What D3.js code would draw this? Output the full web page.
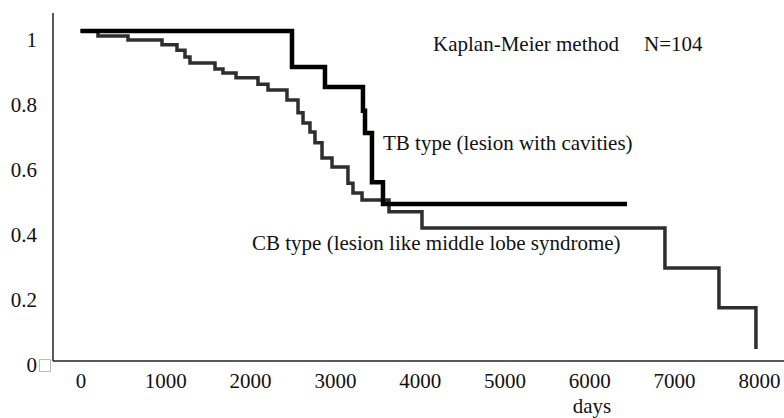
<!DOCTYPE html>
<html>
<head>
<meta charset="utf-8">
<script src="https://cdn.jsdelivr.net/npm/d3@7"></script>
<style>
  body { margin: 0; background: #fff; }
  svg text { font-family: "Liberation Serif", "DejaVu Serif", "Times New Roman", Times, serif !important; fill: #111; }
</style>
</head>
<body>
<div id="chart"></div>
<script>
// survival data (days, cumulative survival)
var tbDays = [0, 2494, 2883, 3331, 3355, 3437, 3567, 6445];
var tbSurv = [1, 0.891, 0.830, 0.758, 0.691, 0.542, 0.476, 0.476];

var cbDays = [0, 206, 560, 961, 1138, 1232, 1291, 1586, 1680, 1834, 2093, 2211, 2435, 2565,
              2624, 2706, 2765, 2848, 2966, 3154, 3213, 3320, 3638, 4027, 6892, 7529, 7965];
var cbSurv = [1, 0.985, 0.973, 0.958, 0.942, 0.921, 0.903, 0.885, 0.873, 0.858, 0.839, 0.821, 0.791, 0.752,
              0.721, 0.694, 0.661, 0.615, 0.588, 0.539, 0.509, 0.488, 0.452, 0.403, 0.282, 0.161, 0.036];

var xTicks = [0, 1000, 2000, 3000, 4000, 5000, 6000, 7000, 8000];
var yTicks = [0, 0.2, 0.4, 0.6, 0.8, 1];

var width = 784, height = 418;
var serif = "'Liberation Serif', 'DejaVu Serif', 'Times New Roman', Times, serif";

var svg = d3.select("#chart").append("svg")
  .attr("width", width)
  .attr("height", height)
  .attr("font-family", serif);

svg.append("rect").attr("width", width).attr("height", height).attr("fill", "#fff");

// scales
var xScale = d3.scaleLinear().domain([0, 8000]).range([80.5, 758.9]);
var yScale = d3.scaleLinear().domain([0, 1]).range([361, 31]);
// tick labels in the scan sit a little off the plotted values
var yLabelScale = d3.scaleLinear().domain([0, 1]).range([364.5, 39.5]);

// axes lines
svg.append("line")
  .attr("x1", 53).attr("x2", 53).attr("y1", 13).attr("y2", 361)
  .attr("stroke", "#222").attr("stroke-width", 1.5);
svg.append("line")
  .attr("x1", 53).attr("x2", 784).attr("y1", 361).attr("y2", 361)
  .attr("stroke", "#222").attr("stroke-width", 1.5);

// little grey box next to the zero
svg.append("rect")
  .attr("x", 39.5).attr("y", 359.5).attr("width", 11).attr("height", 12)
  .attr("fill", "none").attr("stroke", "#bbb").attr("stroke-width", 1);

// x axis labels
var xAxis = d3.axisBottom(xScale).tickValues(xTicks).tickSize(0).tickPadding(0)
  .tickFormat(d3.format("d"));
var gx = svg.append("g")
  .attr("transform", "translate(0,373)")
  .call(xAxis)
  .attr("font-family", serif)
  .attr("font-size", 21);
gx.select(".domain").remove();
gx.selectAll("text")
  .attr("dy", "0.71em")
  .attr("fill", "#111");

// y axis labels
var yAxis = d3.axisLeft(yLabelScale).tickValues(yTicks).tickSize(0).tickPadding(0)
  .tickFormat(function (d) { return String(d); });
var gy = svg.append("g")
  .attr("transform", "translate(37,0)")
  .call(yAxis)
  .attr("font-family", serif)
  .attr("font-size", 21);
gy.select(".domain").remove();
gy.selectAll("text")
  .attr("fill", "#111");

// curves
var line = d3.line()
  .x(function (d) { return xScale(d.t); })
  .y(function (d) { return yScale(d.s); })
  .curve(d3.curveStepAfter);

var cbData = cbDays.map(function (t, i) { return { t: t, s: cbSurv[i] }; });
var tbData = tbDays.map(function (t, i) { return { t: t, s: tbSurv[i] }; });

svg.append("path")
  .datum(cbData)
  .attr("d", line)
  .attr("fill", "none")
  .attr("stroke", "#2e2e2e")
  .attr("stroke-width", 3.5)
  .attr("stroke-linejoin", "miter");

svg.append("path")
  .datum(tbData)
  .attr("d", line)
  .attr("fill", "none")
  .attr("stroke", "#000")
  .attr("stroke-width", 4.5)
  .attr("stroke-linejoin", "miter");

// annotations
var labels = [
  { x: 433, y: 51, text: "Kaplan-Meier method" },
  { x: 644, y: 51, text: "N=104" },
  { x: 383, y: 150, text: "TB type (lesion with cavities)" },
  { x: 252, y: 250, text: "CB type (lesion like middle lobe syndrome)" }
];
svg.selectAll(".note")
  .data(labels)
  .enter()
  .append("text")
  .attr("class", "note")
  .attr("x", function (d) { return d.x; })
  .attr("y", function (d) { return d.y; })
  .attr("font-size", 21)
  .text(function (d) { return d.text; });

svg.append("text")
  .attr("x", 592)
  .attr("y", 413)
  .attr("text-anchor", "middle")
  .attr("font-size", 21)
  .text("days");
</script>
</body>
</html>
